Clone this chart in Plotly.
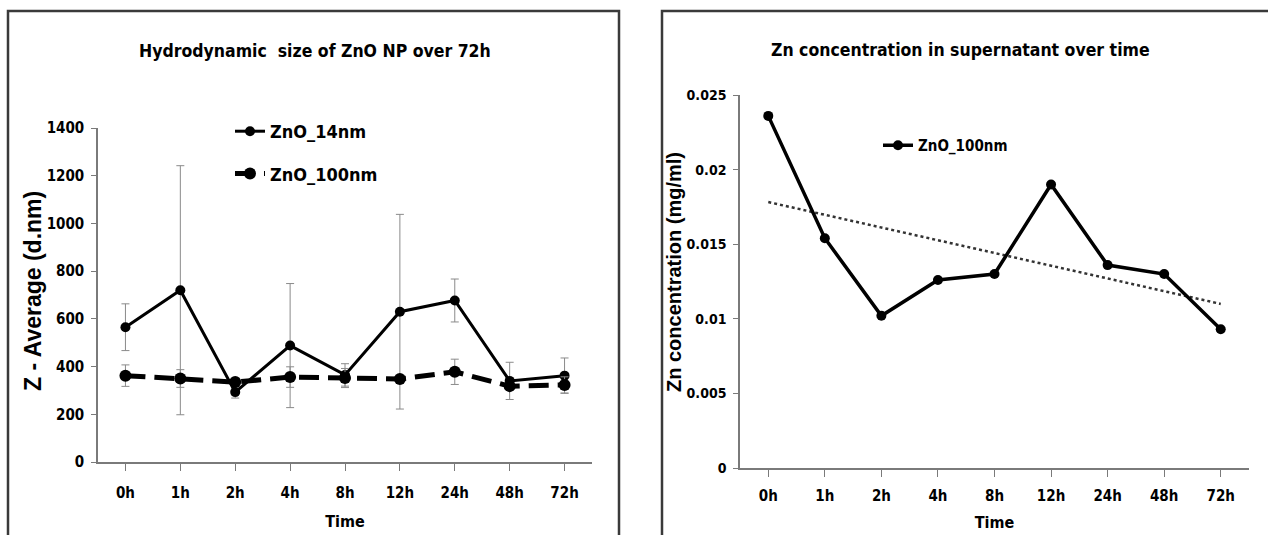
import numpy as np
import plotly.graph_objects as go

# Sampling times
times = ["0h", "1h", "2h", "4h", "8h", "12h", "24h", "48h", "72h"]

# Hydrodynamic size (Z-average, d.nm) with standard deviations
size_14nm = [565, 720, 293, 488, 365, 630, 677, 340, 362]
sd_14nm = [98, 522, 25, 260, 47, 408, 90, 78, 74]
size_100nm = [362, 350, 335, 356, 352, 348, 378, 318, 323]
sd_100nm = [45, 37, 15, 43, 40, 10, 53, 15, 34]

# Zn concentration in supernatant (mg/ml)
zn_100nm = [0.0236, 0.0154, 0.0102, 0.0126, 0.0130, 0.0190, 0.0136, 0.0130, 0.0093]

W, H = 1268, 535
NARROW = "DejaVu Sans Condensed, Liberation Sans Narrow, Arial Narrow, Liberation Sans, sans-serif"
WIDE = "Liberation Sans, Arial, sans-serif"

def px_x(v):
    return v / W

def px_y(v):
    return 1 - v / H

idx = list(range(len(times)))

# Linear trendline for the Zn concentration series
slope, intercept = np.polyfit(idx, zn_100nm, 1)
trend = [intercept + slope * i for i in idx]

fig = go.Figure()

fig.add_trace(go.Scatter(
    x=idx, y=size_14nm, name="ZnO_14nm", mode="lines+markers",
    line=dict(color="black", width=3),
    marker=dict(symbol="circle", size=10, color="black"),
    error_y=dict(type="data", array=sd_14nm, visible=True,
                 color="#8a8a8a", thickness=1, width=4),
    xaxis="x", yaxis="y", legend="legend", legendgroup="a",
))
fig.add_trace(go.Scatter(
    x=idx, y=size_100nm, name="ZnO_100nm", mode="lines+markers",
    line=dict(color="black", width=5, dash="20px,9px"),
    marker=dict(symbol="circle", size=12, color="black"),
    error_y=dict(type="data", array=sd_100nm, visible=True,
                 color="#8a8a8a", thickness=1, width=4),
    xaxis="x", yaxis="y", legend="legend", legendgroup="b",
))

fig.add_trace(go.Scatter(
    x=idx, y=trend, mode="lines", showlegend=False,
    line=dict(color="#333333", width=2.5, dash="dot"),
    xaxis="x2", yaxis="y2", hoverinfo="skip",
))
fig.add_trace(go.Scatter(
    x=idx, y=zn_100nm, name="ZnO_100nm", mode="lines+markers",
    line=dict(color="black", width=3.5),
    marker=dict(symbol="circle", size=10, color="black"),
    xaxis="x2", yaxis="y2", legend="legend2",
))

axis_common = dict(
    showline=True, linecolor="#7a7a7a", linewidth=1.5,
    showgrid=False, zeroline=False, ticks="outside",
    tickcolor="#7a7a7a", tickwidth=1.2,
)

tick_font = dict(family=NARROW, size=15, color="black", weight="bold")
title_font = dict(family=NARROW, size=16, color="black", weight="bold")

fig.update_layout(
    width=W, height=H,
    margin=dict(l=0, r=0, t=0, b=0, pad=0, autoexpand=False),
    paper_bgcolor="white", plot_bgcolor="white",
    font=dict(family=NARROW, color="black"),
    xaxis=dict(
        domain=[px_x(98), px_x(592)], anchor="y",
        range=[-0.5, 8.5], tickmode="array", tickvals=idx, ticktext=times,
        tickson="boundaries", ticklen=7, ticklabelstandoff=9,
        tickfont=tick_font,
        title=dict(text="Time", font=title_font, standoff=15),
        **axis_common,
    ),
    yaxis=dict(
        domain=[px_y(462), px_y(128)], anchor="x",
        range=[0, 1400], dtick=200, ticklen=5, ticklabelstandoff=4,
        tickfont=tick_font,
        **axis_common,
    ),
    xaxis2=dict(
        domain=[px_x(740), px_x(1249)], anchor="y2",
        range=[-0.5, 8.5], tickmode="array", tickvals=idx, ticktext=times,
        tickson="boundaries", ticklen=7, ticklabelstandoff=6,
        tickfont=tick_font,
        title=dict(text="Time", font=title_font, standoff=13),
        **axis_common,
    ),
    yaxis2=dict(
        domain=[px_y(468), px_y(95)], anchor="x2",
        range=[0, 0.025], dtick=0.005, ticklen=5, ticklabelstandoff=4,
        tickformat="~g",
        tickfont=dict(family=NARROW, size=14, color="black", weight="bold"),
        **axis_common,
    ),
    legend=dict(
        x=px_x(230), y=px_y(113), xanchor="left", yanchor="top",
        bgcolor="rgba(0,0,0,0)", tracegroupgap=16,
        font=dict(family=NARROW, size=18, color="black", weight="bold"),
    ),
    legend2=dict(
        x=px_x(878), y=px_y(129), xanchor="left", yanchor="top",
        bgcolor="rgba(0,0,0,0)",
        font=dict(family=NARROW, size=15, color="black", weight="bold"),
    ),
    showlegend=True,
)

# Rotated y-axis titles
fig.add_annotation(text="Z - Average (d.nm)", textangle=-90,
                   x=px_x(33), y=px_y(291), xref="paper", yref="paper",
                   xanchor="center", yanchor="middle", showarrow=False,
                   font=dict(family=WIDE, size=23, color="black", weight="bold"))
fig.add_annotation(text="Zn concentration (mg/ml)", textangle=-90,
                   x=px_x(674), y=px_y(272), xref="paper", yref="paper",
                   xanchor="center", yanchor="middle", showarrow=False,
                   font=dict(family=WIDE, size=20, color="black", weight="bold"))

# Panel titles
fig.add_annotation(text="Hydrodynamic  size of ZnO NP over 72h",
                   x=px_x(315), y=px_y(51), xref="paper", yref="paper",
                   xanchor="center", yanchor="middle", showarrow=False,
                   font=dict(family=NARROW, size=17.5, color="black", weight="bold"))
fig.add_annotation(text="Zn concentration in supernatant over time",
                   x=px_x(960), y=px_y(50), xref="paper", yref="paper",
                   xanchor="center", yanchor="middle", showarrow=False,
                   font=dict(family=NARROW, size=17.5, color="black", weight="bold"))

# Panel frames
frame = dict(type="rect", xref="paper", yref="paper",
             line=dict(color="#3a3a3a", width=2.5), fillcolor="rgba(0,0,0,0)")
fig.add_shape(x0=px_x(8), x1=px_x(619), y0=px_y(545), y1=px_y(11), **frame)
fig.add_shape(x0=px_x(662), x1=px_x(1290), y0=px_y(545), y1=px_y(11), **frame)

fig.write_html("out.html")
